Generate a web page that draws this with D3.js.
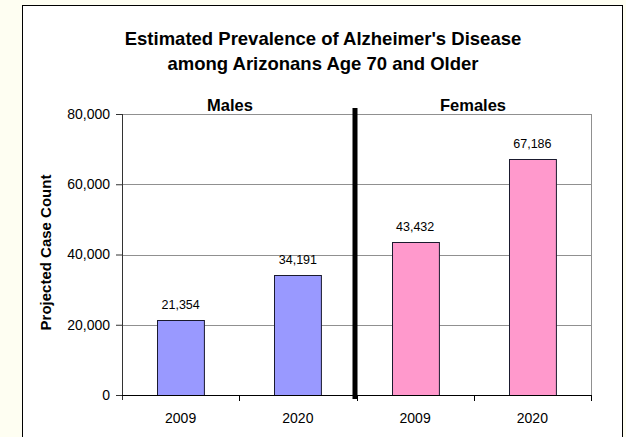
<!DOCTYPE html>
<html>
<head>
<meta charset="utf-8">
<script src="https://cdn.jsdelivr.net/npm/d3@7"></script>
<style>
  body { margin: 0; background: #fefef2; }
  svg { display: block; font-family: "Liberation Sans", Arial, sans-serif; }
</style>
</head>
<body>
<script>
// chart data
var groups = ["Males", "Females"];
var years = ["2009", "2020", "2009", "2020"];
var groupOf = ["Males", "Males", "Females", "Females"];
var cases = [21354, 34191, 43432, 67186];
var yTicks = [0, 20000, 40000, 60000, 80000];

var svgWidth = 626;
var svgHeight = 437;

var chartMargin = { top: 114, right: 35, bottom: 42, left: 122 };
var chartWidth = svgWidth - chartMargin.left - chartMargin.right;
var chartHeight = svgHeight - chartMargin.top - chartMargin.bottom;

var svg = d3.select("body")
  .append("svg")
  .attr("width", svgWidth)
  .attr("height", svgHeight);

// white chart box
svg.append("rect")
  .attr("x", 22.5)
  .attr("y", 5.5)
  .attr("width", 600)
  .attr("height", 440)
  .attr("fill", "white")
  .attr("stroke", "black")
  .attr("stroke-width", 1);

var chartGroup = svg.append("g")
  .attr("transform", `translate(${chartMargin.left}, ${chartMargin.top})`);

var idx = d3.range(cases.length);

var xScale = d3.scaleBand()
  .domain(idx)
  .range([0, chartWidth])
  .paddingInner(0.6)
  .paddingOuter(0.3);

var yScale = d3.scaleLinear()
  .domain([0, 80000])
  .range([chartHeight, 0]);

// gridlines
chartGroup.append("g")
  .selectAll("line")
  .data(yTicks.filter(d => d > 0))
  .enter()
  .append("line")
  .attr("x1", 0)
  .attr("x2", chartWidth)
  .attr("y1", d => Math.round(yScale(d)) + 0.5)
  .attr("y2", d => Math.round(yScale(d)) + 0.5)
  .attr("stroke", "#909090");

// right edge of plot area
chartGroup.append("line")
  .attr("x1", chartWidth + 0.5)
  .attr("x2", chartWidth + 0.5)
  .attr("y1", 0)
  .attr("y2", chartHeight)
  .attr("stroke", "#909090");

// bars
chartGroup.selectAll(".bar")
  .data(idx)
  .enter()
  .append("rect")
  .attr("class", "bar")
  .attr("x", i => Math.round(xScale(i)) + 0.5)
  .attr("y", i => Math.round(yScale(cases[i])) + 0.5)
  .attr("width", xScale.bandwidth())
  .attr("height", i => chartHeight - Math.round(yScale(cases[i])))
  .attr("fill", i => groupOf[i] === "Males" ? "#9999ff" : "#ff99cc")
  .attr("stroke", "#1a1a2e")
  .attr("stroke-width", 1);

// value labels
chartGroup.selectAll(".val")
  .data(idx)
  .enter()
  .append("text")
  .attr("class", "val")
  .attr("x", i => xScale(i) + xScale.bandwidth() / 2)
  .attr("y", i => yScale(cases[i]) - 11)
  .attr("text-anchor", "middle")
  .style("font-size", "12.5px")
  .text(i => d3.format(",")(cases[i]));

// y axis
var leftAxis = d3.axisLeft(yScale)
  .tickValues(yTicks)
  .tickFormat(d3.format(","))
  .tickSize(6)
  .tickSizeOuter(0);

var yAxis = chartGroup.append("g").call(leftAxis);
yAxis.select(".domain")
  .attr("stroke", "#333")
  .attr("d", `M0.5,0V${chartHeight + 5}`);
yAxis.selectAll(".tick line").attr("stroke", "#333");
yAxis.selectAll("text")
  .attr("x", -12)
  .style("font-size", "14px")
  .style("font-family", "'Liberation Sans', Arial, sans-serif")
  .attr("fill", "black");

// x axis: category separators
var step = chartWidth / cases.length;
var xAxisG = chartGroup.append("g")
  .attr("transform", `translate(0, ${chartHeight})`);
xAxisG.append("line")
  .attr("x1", 0)
  .attr("x2", chartWidth)
  .attr("y1", 0.5)
  .attr("y2", 0.5)
  .attr("stroke", "black");
xAxisG.selectAll(".sep")
  .data(d3.range(1, cases.length + 1))
  .enter()
  .append("line")
  .attr("x1", d => Math.round(d * step) + 0.5)
  .attr("x2", d => Math.round(d * step) + 0.5)
  .attr("y1", 0)
  .attr("y2", 6)
  .attr("stroke", "black");
xAxisG.selectAll(".yr")
  .data(idx)
  .enter()
  .append("text")
  .attr("x", i => xScale(i) + xScale.bandwidth() / 2)
  .attr("y", 28)
  .attr("text-anchor", "middle")
  .style("font-size", "14px")
  .text(i => years[i]);

// thick divider between groups
chartGroup.append("line")
  .attr("x1", 2 * step - 1.5)
  .attr("x2", 2 * step - 1.5)
  .attr("y1", -6)
  .attr("y2", chartHeight + 4)
  .attr("stroke", "black")
  .attr("stroke-width", 5);

// group labels
var groupX = [108, 351];
chartGroup.selectAll(".grp")
  .data(groups)
  .enter()
  .append("text")
  .attr("x", (d, i) => groupX[i])
  .attr("y", -3)
  .attr("text-anchor", "middle")
  .style("font-size", "16.5px")
  .style("font-weight", "bold")
  .text(d => d);

// title
var title = svg.append("text")
  .attr("x", 323)
  .attr("text-anchor", "middle")
  .style("font-size", "18.5px")
  .style("font-weight", "bold");
title.append("tspan").attr("x", 323).attr("y", 45)
  .text("Estimated Prevalence of Alzheimer's Disease");
title.append("tspan").attr("x", 323).attr("y", 70)
  .text("among Arizonans Age 70 and Older");

// y axis title
svg.append("text")
  .attr("transform", `translate(51, ${chartMargin.top + chartHeight / 2 - 2}) rotate(-90)`)
  .attr("text-anchor", "middle")
  .style("font-size", "15px")
  .style("font-weight", "bold")
  .text("Projected Case Count");
</script>
</body>
</html>
